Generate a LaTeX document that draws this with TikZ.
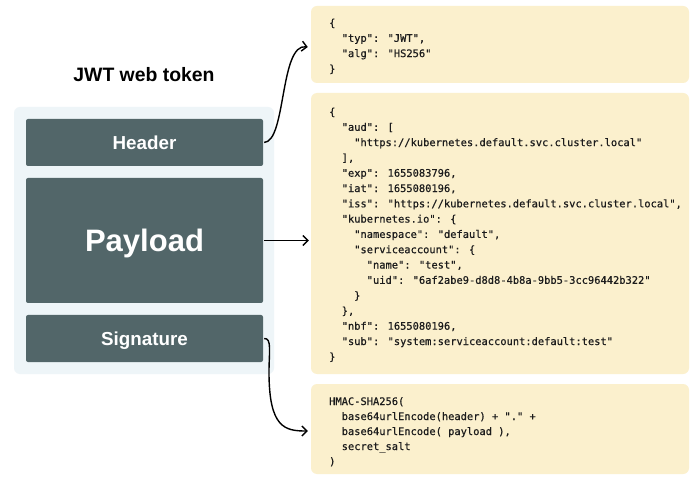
\documentclass[tikz,border=0pt]{standalone}
\usepackage{fontspec}
\setmainfont{Liberation Sans}
\newfontfamily\codefont[FakeBold=0.6]{DejaVu Sans Mono}
\usetikzlibrary{arrows.meta,calc}
\definecolor{slate}{HTML}{526669}
\definecolor{paleblue}{HTML}{EEF5F8}
\definecolor{cream}{HTML}{FBF0CD}
\definecolor{ink}{HTML}{1C1C1C}
\tikzset{
  darkbox/.style={draw=none, fill=slate, rounded corners=2pt, text=white, font=\bfseries\fontsize{18.8}{20}\selectfont, minimum width=237pt, inner sep=0pt, text depth=0pt},
  codebox/.style={draw=none, fill=cream, rounded corners=6pt, minimum width=378pt, inner sep=0pt},
  codetext/.style={anchor=base west, align=left, inner sep=0pt, text=ink, font=\codefont\fontsize{10.4}{15.3}\selectfont},
  conn/.style={draw=black, line width=1.4pt, -{Straight Barb[length=5pt,width=10pt,line width=1.4pt]}}
}
\begin{document}
\begin{tikzpicture}[x=1pt,y=-1pt]
\useasboundingbox (0,0) rectangle (696,486);
\fill[white] (0,0) rectangle (696,486);
% title
\node[font=\bfseries\fontsize{19.4}{21}\selectfont, text=black] (title) at (144,75) {JWT web token};
% outer container
\node[draw=none, fill=paleblue, rounded corners=6pt, minimum width=260pt, minimum height=267pt, inner sep=0pt] (token) at (144,240.5) {};
\node[darkbox, minimum height=47pt] (header) at (144.5,142.5) {Header};
\node[darkbox, minimum height=125pt, font=\bfseries\fontsize{31}{34}\selectfont] (payload) at (144.5,240.5) {Payload};
\node[darkbox, minimum height=47pt] (signature) at (144.5,338.5) {Signature};
% code boxes
\node[codebox, minimum height=77pt] (hbox) at (500,44.5) {};
\node[codebox, minimum height=281pt] (pbox) at (500,233.5) {};
\node[codebox, minimum height=90pt] (sbox) at (500,429) {};
\node[codetext] (htext) at (329,72.4) {\{\\
\ \ "typ": "JWT",\\
\ \ "alg": "HS256"\\
\}};
\node[codetext] (ptext) at (329,360.3) {\{\\
\ \ "aud": [\\
\ \ \ \ "https://kubernetes.default.svc.cluster.local"\\
\ \ ],\\
\ \ "exp": 1655083796,\\
\ \ "iat": 1655080196,\\
\ \ "iss": "https://kubernetes.default.svc.cluster.local",\\
\ \ "kubernetes.io": \{\\
\ \ \ \ "namespace": "default",\\
\ \ \ \ "serviceaccount": \{\\
\ \ \ \ \ \ "name": "test",\\
\ \ \ \ \ \ "uid": "6af2abe9-d8d8-4b8a-9bb5-3cc96442b322"\\
\ \ \ \ \}\\
\ \ \},\\
\ \ "nbf": 1655080196,\\
\ \ "sub": "system:serviceaccount:default:test"\\
\}};
\node[codetext, font=\codefont\fontsize{10.4}{15}\selectfont] (stext) at (329,465) {HMAC-SHA256(\\
\ \ base64urlEncode(header) + "." +\\
\ \ base64urlEncode( payload ),\\
\ \ secret\_salt\\
)};
% connectors
\coordinate (htip) at ($(hbox.west)+(-3,2.5)$);
\coordinate (stip) at ($(sbox.west)+(-3,2)$);
\draw[conn] ([xshift=1pt]header.east) .. controls +(22,-1) and +(-28,-4) .. (htip);
\draw[conn] ([xshift=1pt]payload.east) -- ([xshift=-2pt]payload.east -| pbox.west);
\draw[conn] ([xshift=1pt]signature.east) .. controls (272,338) and (269,352) .. (269,372) .. controls (269,428) and (285,431) .. (stip);
\end{tikzpicture}
\end{document}
